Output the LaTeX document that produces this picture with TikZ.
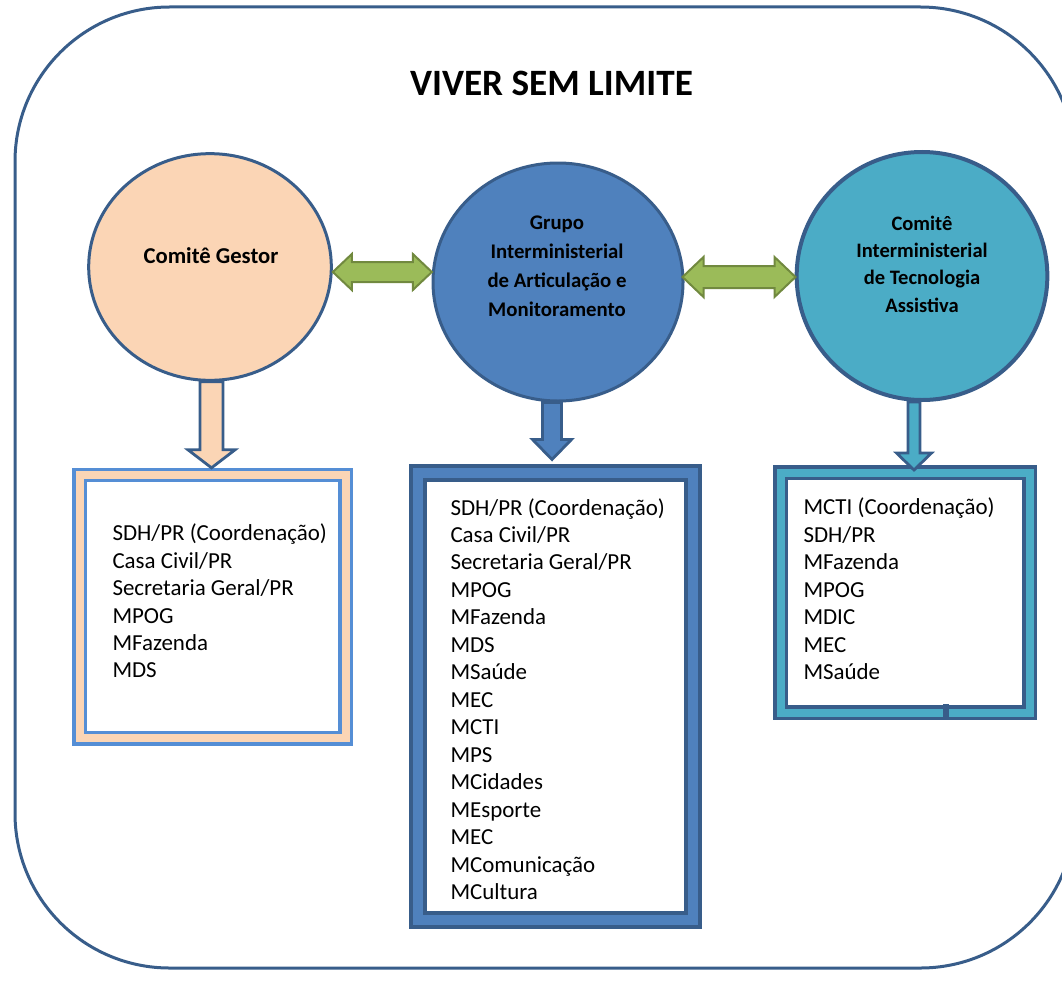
\documentclass[tikz,border=0pt]{standalone}
\usepackage{fontspec}
\setmainfont{Carlito}
\usetikzlibrary{shapes.geometric}

\definecolor{frameblue}{RGB}{56,93,138}
\definecolor{peach}{RGB}{251,213,181}
\definecolor{midblue}{RGB}{79,129,189}
\definecolor{aqua}{RGB}{75,172,198}
\definecolor{olive}{RGB}{155,187,89}
\definecolor{darkolive}{RGB}{113,137,63}
\definecolor{lightblue}{RGB}{85,142,213}

\tikzset{every picture/.style={line width=0.75pt}}
\tikzset{
	orgcircle/.style={ellipse, draw=frameblue, line width=2.25pt, inner sep=0pt},
	orgbox/.style={rectangle, fill=white, inner sep=0pt, double},
	linkarrow/.style={draw=darkolive, fill=olive, line width=1.5pt, line join=miter},
	downarrow/.style={draw=frameblue, line width=2.1pt, line join=miter},
	circlelabel/.style={anchor=center, inner sep=0pt, align=center, font=\bfseries},
	listlabel/.style={anchor=west, inner sep=0pt, align=left, font=\fontsize{17.2pt}{20.6pt}\selectfont}
}

\begin{document}
\begin{tikzpicture}[x=0.75pt,y=0.75pt,yscale=-1,xscale=1]
	\useasboundingbox (0,0) rectangle (1062,995);
	\clip (0,0) rectangle (1062,995);
	
	%Rounded Rect [frame]
	\draw [frameblue, line width=2.25pt, rounded corners=116pt] (15,7) rectangle (1075,968);
	
	% Text Node
	\node (title) [anchor=center, inner sep=0pt, font=\fontsize{27.9pt}{33pt}\selectfont\bfseries] at (551.5,83) {VIVER SEM LIMITE};
	
	%Circles
	\node (cg) [orgcircle, fill=peach, minimum width=182pt, minimum height=170pt] at (210,267) {};
	\node (gi) [orgcircle, fill=midblue, minimum width=187.5pt, minimum height=178.5pt] at (558,282) {};
	\node (ct) [orgcircle, fill=aqua, line width=3pt, minimum width=188pt, minimum height=186pt] at (922,276) {};
	
	% Text Node
	\node (cglabel) [circlelabel, font=\fontsize{17pt}{21pt}\selectfont\bfseries] at (211,256) {Comitê Gestor};
	% Text Node
	\node (gilabel) [circlelabel, font=\fontsize{15.6pt}{21.75pt}\selectfont\bfseries] at (557,266.5) {Grupo\\Interministerial\\de Articulação e\\Monitoramento};
	% Text Node
	\node (ctlabel) [circlelabel, font=\fontsize{15.4pt}{20.5pt}\selectfont\bfseries] at (922,264) {Comitê\\Interministerial\\de Tecnologia\\Assistiva};
	
	%Double Arrows
	\draw [linkarrow, shift={(cg.east)}] (0,5) -- (19,-13) -- (19,-5) -- (80,-5) -- (80,-13) -- (99,5) -- (80,23) -- (80,15) -- (19,15) -- (19,23) -- cycle;
	\draw [linkarrow, shift={(gi.east)}] (-2,-5) -- (19,-25) -- (19,-16) -- (90,-16) -- (90,-25) -- (111,-5) -- (90,15) -- (90,6) -- (19,6) -- (19,15) -- cycle;
	
	%Lists
	\node (cgbox) [orgbox, draw=lightblue, double=peach, line width=2.4pt, double distance=6pt, minimum width=199.5pt, minimum height=197.6pt] at (212.5,606.75) {};
	\node (gibox) [orgbox, draw=frameblue, double=midblue, line width=3pt, double distance=7.5pt, minimum width=206.6pt, minimum height=334.9pt] at (555.75,696.75) {};
	\node (ctbox) [orgbox, draw=frameblue, double=aqua, line width=2.6pt, double distance=6pt, minimum width=186.75pt, minimum height=180pt] at (905,592.5) {};
	\fill [frameblue] (943,704) rectangle (949,718);
	
	%Down Arrows
	\draw [downarrow, fill=peach, shift={(cg.south)}] (-10,0) -- (-10,68) -- (-22,68) -- (1.5,86) -- (25,68) -- (13,68) -- (13,0) -- cycle;
	\draw [downarrow, fill=midblue, shift={(gi.south)}] (-15.5,0) -- (-15.5,37) -- (-25.5,37) -- (-6,57) -- (13.5,37) -- (3.5,37) -- (3.5,0) -- cycle;
	\draw [downarrow, fill=aqua, shift={(ct.south)}] (-14,0) -- (-14,51) -- (-25.5,51) -- (-8,68) -- (9.5,51) -- (-2,51) -- (-2,0) -- cycle;
	
	% Text Node
	\node (cglist) [listlabel] at (112,601) {SDH/PR (Coordenação)\\Casa Civil/PR\\Secretaria Geral/PR\\MPOG\\MFazenda\\MDS};
	% Text Node
	\node (gilist) [listlabel] at (450,699) {SDH/PR (Coordenação)\\Casa Civil/PR\\Secretaria Geral/PR\\MPOG\\MFazenda\\MDS\\MSaúde\\MEC\\MCTI\\MPS\\MCidades\\MEsporte\\MEC\\MComunicação\\MCultura};
	% Text Node
	\node (ctlist) [listlabel] at (803,589) {MCTI (Coordenação)\\SDH/PR\\MFazenda\\MPOG\\MDIC\\MEC\\MSaúde};
	
\end{tikzpicture}
\end{document}
